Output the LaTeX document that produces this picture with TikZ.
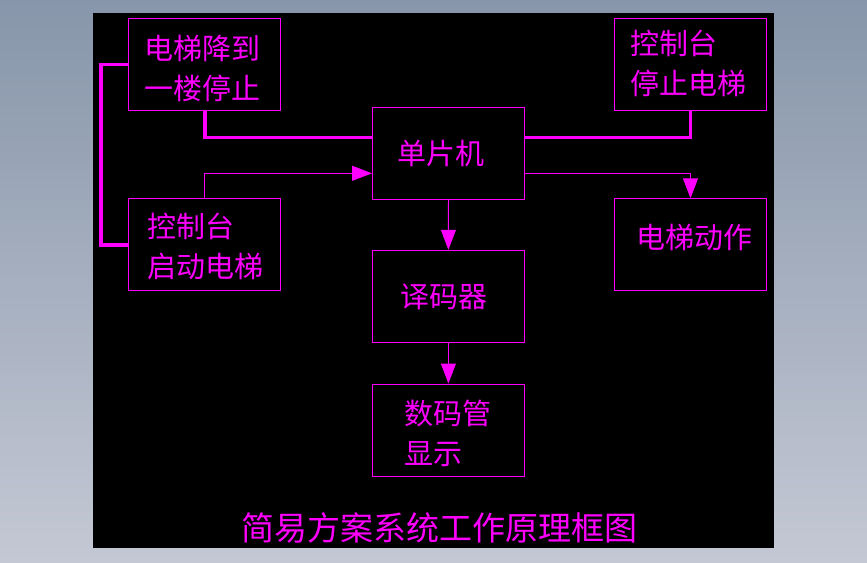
\documentclass[tikz,border=0pt]{standalone}
\usepackage{fontspec}
\newfontfamily\cjk{Noto Sans CJK SC}
\usetikzlibrary{arrows.meta}
\definecolor{bgtop}{RGB}{135,150,170}
\definecolor{bgbot}{RGB}{196,200,212}
\definecolor{mag}{RGB}{255,0,255}
\tikzset{
  blockbox/.style={draw=mag, line width=1pt, minimum width=152pt, minimum height=92pt, inner sep=0pt},
  boxtext/.style={text=mag, inner sep=0pt, align=left, font={\cjk\fontsize{29}{40}\selectfont}},
  titletext/.style={text=mag, inner sep=0pt, font={\cjk\fontsize{33}{36}\selectfont}},
  thickwire/.style={draw=mag, line width=3.4pt},
  thinwire/.style={draw=mag, line width=1pt, -{Triangle[length=20pt,width=15pt]}},
}
\begin{document}
\begin{tikzpicture}[x=1pt,y=-1pt]
\useasboundingbox (0,0) rectangle (867,562);
\shade[top color=bgtop, bottom color=bgbot] (0,0) rectangle (867,562);
\fill[black] (93,13.3) rectangle (774,548.3);

% boxes
\node[blockbox] (stop1) at (204.8,64.3) {};
\node[blockbox] (start) at (204.8,244.8) {};
\node[blockbox] (mcu) at (448.5,153.3) {};
\node[blockbox] (stop2) at (690.5,64.3) {};
\node[blockbox] (act) at (690.5,244.8) {};
\node[blockbox] (dec) at (448.4,296.3) {};
\node[blockbox] (disp) at (448.4,430) {};

% texts
\node[boxtext] (t1) at (202,68.3) {电梯降到\\一楼停止};
\node[boxtext] (t2) at (205,246.5) {控制台\\启动电梯};
\node[boxtext] (t3) at (441,154) {单片机};
\node[boxtext] (t4) at (688.5,63) {控制台\\停止电梯};
\node[boxtext] (t5) at (694,237.5) {电梯动作};
\node[boxtext] (t6) at (443.5,296.7) {译码器};
\node[boxtext] (t7) at (448,433) {数码管\\显示};
\node[titletext] (title) at (439.5,527.5) {简易方案系统工作原理框图};

% thick wires
\draw[thickwire] (stop1.west) -- ++(-27.3,0) |- (start.west);
\draw[thickwire] (stop1.south) |- ([yshift=16pt]mcu.west);
\draw[thickwire] (stop2.south) |- ([yshift=16pt]mcu.east);

% thin arrows
\draw[thinwire] (start.north) |- ([yshift=-20pt]mcu.west);
\draw[thinwire] ([yshift=-20pt]mcu.east) -| (act.north);
\draw[thinwire] (mcu.south) -- (dec.north);
\draw[thinwire] (dec.south) -- (disp.north);
\end{tikzpicture}
\end{document}
